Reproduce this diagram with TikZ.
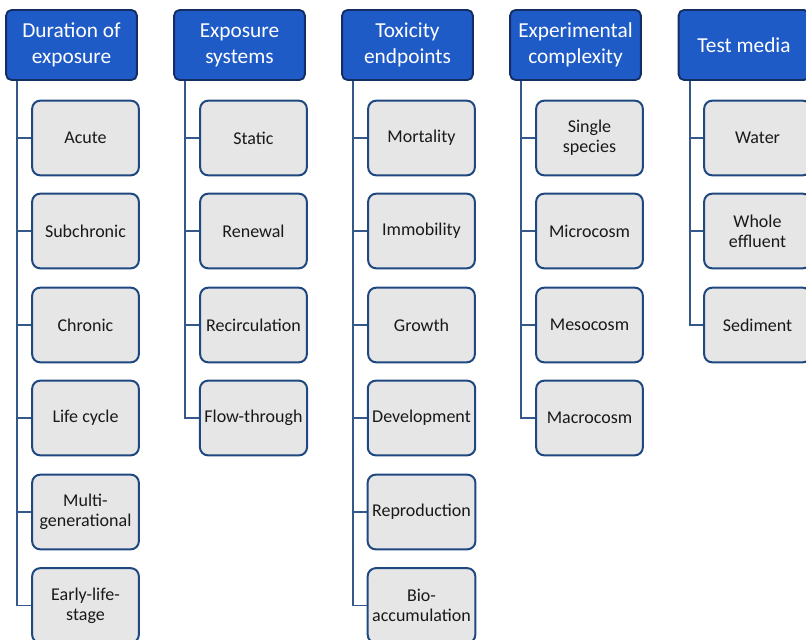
\documentclass[tikz,border=0pt]{standalone}
\usepackage{fontspec}
\setmainfont{Carlito}
\usepackage{tikz}
\usetikzlibrary{positioning}
\definecolor{headblue}{RGB}{31,91,199}
\definecolor{headedge}{RGB}{20,46,100}
\definecolor{boxgray}{RGB}{230,230,230}
\definecolor{boxedge}{RGB}{31,72,128}
\definecolor{linkblue}{RGB}{52,88,138}

\begin{document}
\begin{tikzpicture}[x=0.75pt,y=-0.75pt,
  head/.style={draw=headedge,fill=headblue,line width=1.4pt,rounded corners=4pt,
    minimum width=98pt,minimum height=52.5pt,align=center,text=white,
    font=\fontsize{16}{19.5}\selectfont},
  item/.style={draw=boxedge,fill=boxgray,line width=1.5pt,rounded corners=6pt,
    minimum width=80pt,minimum height=56pt,align=center,text=black!90,
    font=\fontsize{13.5}{15}\selectfont},
  link/.style={draw=linkblue,line width=1.4pt}]
  \useasboundingbox (0,0) rectangle (806,639);
  % headers
  \node[head] (dur) at (71.5,45) {Duration of\\exposure};
  \node[head] (exs) at (239.5,45) {Exposure\\systems};
  \node[head] (tox) at (407.5,45) {Toxicity\\endpoints};
  \node[head] (cpx) at (575.5,45) {Experimental\\complexity};
  \node[head] (med) at (744,45) {Test media};
  % duration of exposure
  \node[item] (acute) at (85.5,138) {Acute};
  \node[item] (subch) at (85.5,231) {Subchronic};
  \node[item] (chron) at (85.5,325) {Chronic};
  \node[item] (lifec) at (85.5,418) {Life cycle};
  \node[item] (multi) at (85.5,512) {Multi-\\generational};
  \node[item] (early) at (85.5,605.5) {Early-life-\\stage};
  % exposure systems
  \node[item] (stat) at (253.5,138) {Static};
  \node[item] (renew) at (253.5,231) {Renewal};
  \node[item] (recirc) at (253.5,325) {Recirculation};
  \node[item] (flow) at (253.5,418) {Flow-through};
  % toxicity endpoints
  \node[item] (mort) at (421.5,138) {Mortality};
  \node[item] (immob) at (421.5,231) {Immobility};
  \node[item] (grow) at (421.5,325) {Growth};
  \node[item] (devel) at (421.5,418) {Development};
  \node[item] (repro) at (421.5,512) {Reproduction};
  \node[item] (bioac) at (421.5,605.5) {Bio-\\accumulation};
  % experimental complexity
  \node[item] (single) at (589.5,138) {Single\\species};
  \node[item] (micro) at (589.5,231) {Microcosm};
  \node[item] (meso) at (589.5,325) {Mesocosm};
  \node[item] (macro) at (589.5,418) {Macrocosm};
  % test media
  \node[item] (water) at (757.5,138) {Water};
  \node[item] (whole) at (757.5,231) {Whole\\effluent};
  \node[item] (sedim) at (757.5,325) {Sediment};
  % trunks
  \coordinate (durt) at ([xshift=9pt]dur.south west);
  \coordinate (exst) at ([xshift=9pt]exs.south west);
  \coordinate (toxt) at ([xshift=9pt]tox.south west);
  \coordinate (cpxt) at ([xshift=9pt]cpx.south west);
  \coordinate (medt) at ([xshift=9pt]med.south west);
  \foreach \c in {acute,subch,chron,lifec,multi,early}
    \draw[link] (durt) |- (\c.west);
  \foreach \c in {stat,renew,recirc,flow}
    \draw[link] (exst) |- (\c.west);
  \foreach \c in {mort,immob,grow,devel,repro,bioac}
    \draw[link] (toxt) |- (\c.west);
  \foreach \c in {single,micro,meso,macro}
    \draw[link] (cpxt) |- (\c.west);
  \foreach \c in {water,whole,sedim}
    \draw[link] (medt) |- (\c.west);
\end{tikzpicture}
\end{document}
